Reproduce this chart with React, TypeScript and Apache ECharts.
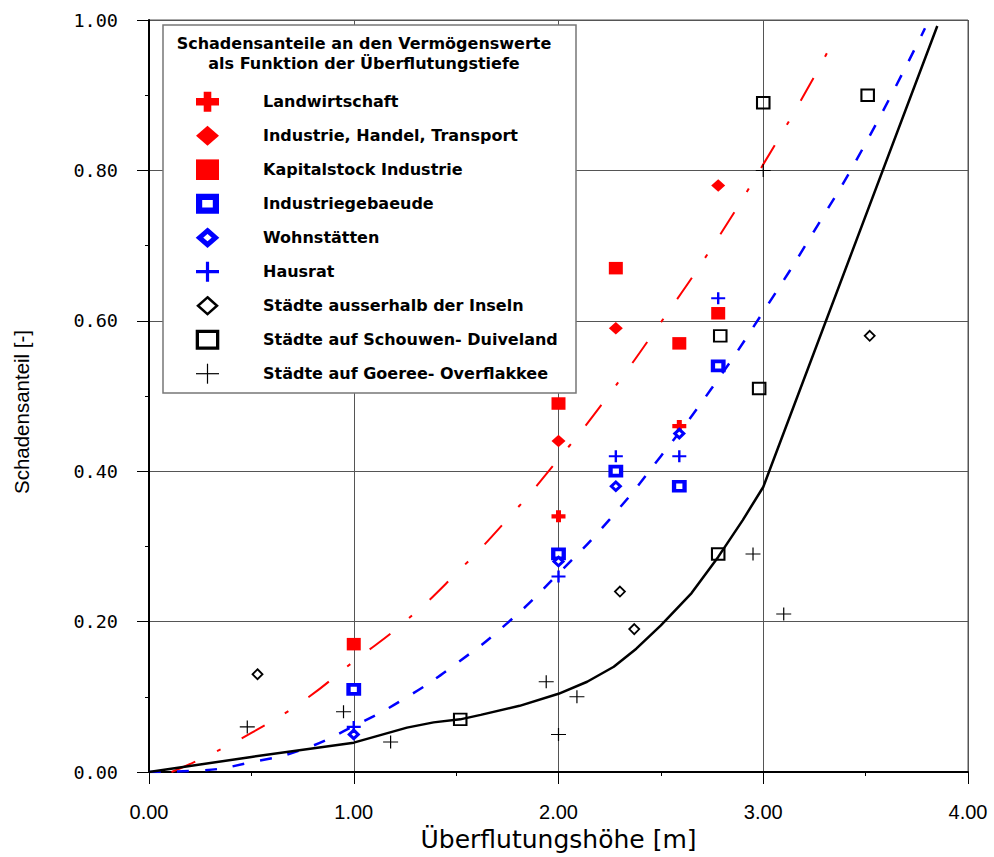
import React, { useEffect, useRef } from "react";
import * as echarts from "echarts";

// ---------- axis ticks ----------
const xTickValues = [0, 1, 2, 3, 4];
const yTickValues = [0, 0.2, 0.4, 0.6, 0.8, 1.0];

// ---------- legend ----------
const legendTitle = ["Schadensanteile an den Vermögenswerte", "als Funktion der Überflutungstiefe"];
const seriesNames = [
  "Landwirtschaft",
  "Industrie, Handel, Transport",
  "Kapitalstock Industrie",
  "Industriegebaeude",
  "Wohnstätten",
  "Hausrat",
  "Städte ausserhalb der Inseln",
  "Städte auf Schouwen- Duiveland",
  "Städte auf Goeree- Overflakkee",
];

// ---------- scatter data [Überflutungshöhe, Schadensanteil] ----------
const landwirtschaft = [[2.0, 0.34], [2.59, 0.46]];
const industrieHandel = [[2.0, 0.44], [2.28, 0.59], [2.78, 0.78]];
const kapitalstock = [[1.0, 0.17], [2.0, 0.49], [2.28, 0.67], [2.59, 0.57], [2.78, 0.61]];
const industriegebaeude = [[1.0, 0.11], [2.0, 0.29], [2.28, 0.4], [2.59, 0.38], [2.78, 0.54]];
const wohnstaetten = [[1.0, 0.05], [2.0, 0.28], [2.28, 0.38], [2.59, 0.45]];
const hausrat = [[1.0, 0.06], [2.0, 0.26], [2.28, 0.42], [2.59, 0.42], [2.78, 0.63]];
const staedteAusserhalb = [[0.53, 0.13], [2.3, 0.24], [2.37, 0.19], [3.52, 0.58]];
const schouwen = [[1.52, 0.07], [2.78, 0.29], [2.79, 0.58], [2.98, 0.51], [3.0, 0.89], [3.51, 0.9]];
const goeree = [[0.48, 0.06], [0.95, 0.08], [1.18, 0.04], [1.94, 0.12], [2.0, 0.05], [2.09, 0.1], [2.95, 0.29], [3.0, 0.8], [3.1, 0.21]];

// ---------- curves ----------
const redCurve = [[0.11, 0], [0.25, 0.017], [0.5, 0.052], [0.75, 0.094], [1.0, 0.147], [1.25, 0.2], [1.5, 0.264], [1.75, 0.336], [2.0, 0.416], [2.25, 0.503], [2.5, 0.598], [2.75, 0.698], [3.0, 0.808], [3.25, 0.925], [3.355, 0.98]];
const blueCurve = [[0, 0], [0.25, 0.002], [0.5, 0.013], [0.75, 0.03], [1.0, 0.061], [1.25, 0.098], [1.5, 0.144], [1.75, 0.198], [2.0, 0.264], [2.25, 0.336], [2.5, 0.42], [2.75, 0.511], [3.0, 0.612], [3.25, 0.72], [3.5, 0.836], [3.79, 0.989]];
const blackCurve = [[0, 0], [0.5, 0.02], [1.0, 0.039], [1.13, 0.049], [1.26, 0.059], [1.39, 0.066], [1.52, 0.07], [1.62, 0.076], [1.81, 0.088], [2.0, 0.104], [2.14, 0.12], [2.27, 0.14], [2.38, 0.164], [2.5, 0.195], [2.65, 0.238], [2.78, 0.286], [2.9, 0.335], [3.0, 0.379], [3.85, 0.992]];

const RED = "#ff0000";
const BLUE = "#0000ff";
const BLACK = "#000000";

const boldPlus = "path://M4.5,0H9.5V4.5H14V9.5H9.5V14H4.5V9.5H0V4.5H4.5Z";
const mediumPlus = "path://M5.8,0H8.2V5.8H14V8.2H8.2V14H5.8V8.2H0V5.8H5.8Z";
const thinPlus = "path://M6.9,0H8.1V6.9H15V8.1H8.1V15H6.9V8.1H0V6.9H6.9Z";

function plusPoints(cx: number, cy: number, w: number, h: number, t: number) {
  return [
    [cx - t, cy - h], [cx + t, cy - h], [cx + t, cy - t], [cx + w, cy - t],
    [cx + w, cy + t], [cx + t, cy + t], [cx + t, cy + h], [cx - t, cy + h],
    [cx - t, cy + t], [cx - w, cy + t], [cx - w, cy - t], [cx - t, cy - t],
  ];
}
function diamondPoints(cx: number, cy: number, w: number, h: number) {
  return [[cx, cy - h], [cx + w, cy], [cx, cy + h], [cx - w, cy]];
}

function legendIcon(i: number, cx: number, cy: number): any[] {
  const z = 101;
  switch (i) {
    case 0:
      return [{ type: "polygon", z, shape: { points: plusPoints(cx, cy, 11.5, 10, 3.8) }, style: { fill: RED } }];
    case 1:
      return [{ type: "polygon", z, shape: { points: diamondPoints(cx, cy, 11.5, 10) }, style: { fill: RED } }];
    case 2:
      return [{ type: "rect", z, shape: { x: cx - 11.5, y: cy - 10.3, width: 23, height: 20.6 }, style: { fill: RED } }];
    case 3:
      return [{ type: "rect", z, shape: { x: cx - 11.5 + 3.1, y: cy - 10 + 3.1, width: 23 - 6.2, height: 20 - 6.2 }, style: { fill: "#fff", stroke: BLUE, lineWidth: 6.2 } }];
    case 4:
      return [{ type: "polygon", z, shape: { points: diamondPoints(cx, cy, 8, 7) }, style: { fill: "#fff", stroke: BLUE, lineWidth: 5 } }];
    case 5:
      return [{ type: "polygon", z, shape: { points: plusPoints(cx, cy, 11.5, 10, 1.6) }, style: { fill: BLUE } }];
    case 6:
      return [{ type: "polygon", z, shape: { points: diamondPoints(cx, cy, 9.5, 8.4) }, style: { fill: "#fff", stroke: BLACK, lineWidth: 2.5 } }];
    case 7:
      return [{ type: "rect", z, shape: { x: cx - 11.8 + 1.65, y: cy - 10 + 1.65, width: 23.6 - 3.3, height: 20 - 3.3 }, style: { fill: "#fff", stroke: BLACK, lineWidth: 3.3 } }];
    default:
      return [
        { type: "line", z, shape: { x1: cx - 11.5, y1: cy, x2: cx + 11.5, y2: cy }, style: { stroke: BLACK, lineWidth: 1.2 } },
        { type: "line", z, shape: { x1: cx, y1: cy - 10, x2: cx, y2: cy + 10 }, style: { stroke: BLACK, lineWidth: 1.2 } },
      ];
  }
}

export default function App() {
  const ref = useRef<HTMLDivElement>(null);

  useEffect(() => {
    if (!ref.current) return;
    const chart = echarts.init(ref.current, undefined, { renderer: "svg" });

    const legendElements: any[] = [
      { type: "rect", z: 100, shape: { x: 163, y: 25, width: 413, height: 368 }, style: { fill: "#fff", stroke: "#777", lineWidth: 1.5 } },
    ];
    legendTitle.forEach((t, i) => {
      legendElements.push({
        type: "text", z: 101, x: 364, y: 43 + i * 20,
        style: { text: t, font: "bold 16px 'DejaVu Sans'", fill: "#000", align: "center", verticalAlign: "middle", textAlign: "center", textVerticalAlign: "middle" },
      });
    });
    seriesNames.forEach((name, i) => {
      const cy = 101.7 + i * 34;
      legendElements.push(...legendIcon(i, 207.5, cy));
      legendElements.push({
        type: "text", z: 101, x: 263, y: cy,
        style: { text: name, font: "bold 16px 'DejaVu Sans'", fill: "#000", align: "left", verticalAlign: "middle", textAlign: "left", textVerticalAlign: "middle" },
      });
    });

    const scatter = (name: string, data: number[][], symbol: string, size: number[], itemStyle: any) => ({
      name, type: "scatter", data, symbol, symbolSize: size, itemStyle: { opacity: 1, ...itemStyle }, z: 5,
    });

    const option: any = {
      animation: false,
      backgroundColor: "#fff",
      grid: { left: 149, right: 26, top: 20, bottom: 85, show: true, borderColor: "#555", borderWidth: 1, outerBoundsMode: "none" },
      xAxis: {
        type: "value",
        min: xTickValues[0],
        max: xTickValues[xTickValues.length - 1],
        interval: xTickValues[1] - xTickValues[0],
        name: "Überflutungshöhe [m]",
        nameLocation: "middle",
        nameGap: 52,
        nameTextStyle: { fontFamily: "'DejaVu Sans'", fontSize: 25, color: "#000" },
        axisLine: { onZero: false, lineStyle: { color: "#000", width: 2 } },
        axisTick: { show: true, length: 12, lineStyle: { color: "#000", width: 1 } },
        minorTick: { show: true, splitNumber: 2, length: 4, lineStyle: { color: "#000", width: 1 } },
        axisLabel: { formatter: (v: number) => v.toFixed(2), fontFamily: "'Liberation Sans'", fontSize: 20, color: "#000", margin: 30 },
        splitLine: { show: true, lineStyle: { color: "#555", width: 1 } },
      },
      yAxis: {
        type: "value",
        min: yTickValues[0],
        max: yTickValues[yTickValues.length - 1],
        interval: yTickValues[1] - yTickValues[0],
        name: "Schadensanteil [-]",
        nameLocation: "middle",
        nameGap: 117,
        nameTextStyle: { fontFamily: "'Liberation Sans'", fontSize: 20.5, color: "#000", padding: [0, 32, 0, 0] },
        axisLine: { onZero: false, lineStyle: { color: "#000", width: 2 } },
        axisTick: { show: true, length: 12, lineStyle: { color: "#000", width: 1 } },
        minorTick: { show: true, splitNumber: 2, length: 4, lineStyle: { color: "#000", width: 1 } },
        axisLabel: { formatter: (v: number) => v.toFixed(2), fontFamily: "'DejaVu Sans Mono'", fontSize: 18.5, color: "#000", margin: 31 },
        splitLine: { show: true, lineStyle: { color: "#555", width: 1 } },
      },
      graphic: { elements: legendElements },
      series: [
        { name: "Kurve rot", type: "line", data: redCurve, showSymbol: false, smooth: true, z: 3, lineStyle: { color: RED, width: 2, type: [26, 24, 4, 24] } },
        { name: "Kurve blau", type: "line", data: blueCurve, showSymbol: false, smooth: true, z: 3, lineStyle: { color: BLUE, width: 2.5, type: [12, 16] } },
        { name: "Kurve schwarz", type: "line", data: blackCurve, showSymbol: false, smooth: false, z: 3, lineStyle: { color: BLACK, width: 2.5 } },
        scatter(seriesNames[0], landwirtschaft, boldPlus, [14, 12], { color: RED }),
        scatter(seriesNames[1], industrieHandel, "diamond", [14, 12.5], { color: RED }),
        scatter(seriesNames[2], kapitalstock, "rect", [14, 12.5], { color: RED }),
        scatter(seriesNames[3], industriegebaeude, "rect", [10.5, 9], { color: "#fff", borderColor: BLUE, borderWidth: 4 }),
        scatter(seriesNames[4], wohnstaetten, "diamond", [9, 8.5], { color: "#fff", borderColor: BLUE, borderWidth: 3 }),
        scatter(seriesNames[5], hausrat, mediumPlus, [14, 12], { color: BLUE }),
        scatter(seriesNames[6], staedteAusserhalb, "diamond", [10, 10], { color: "#fff", borderColor: BLACK, borderWidth: 1.8 }),
        scatter(seriesNames[7], schouwen, "rect", [12.5, 11.5], { color: "transparent", borderColor: BLACK, borderWidth: 2 }),
        scatter(seriesNames[8], goeree, thinPlus, [15, 13], { color: BLACK }),
      ],
    };

    chart.setOption(option);
    return () => chart.dispose();
  }, []);

  return <div ref={ref} style={{ position: "fixed", left: 0, top: 0, width: 994, height: 857 }} />;
}
